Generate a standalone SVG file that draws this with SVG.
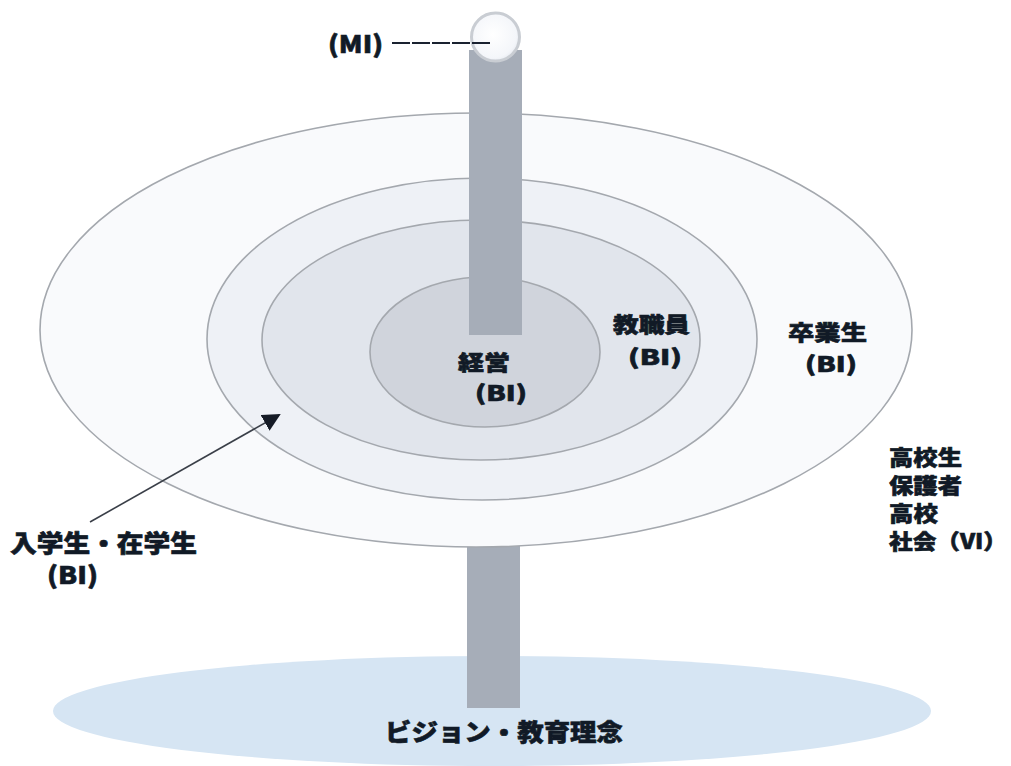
<svg xmlns="http://www.w3.org/2000/svg" width="1011" height="766" viewBox="0 0 1011 766">
  <style>
    .lbl { font-family: "Noto Sans CJK JP", "Liberation Sans", sans-serif; font-weight: 900; fill: #111a26; font-size: 24px; stroke: #111a26; stroke-width: 0.6; }
    .sm { font-size: 21px; }
    .ring { stroke: #a4a8ae; stroke-width: 1.6; }
    .pole { fill: #a6adb8; }
  </style>
  <defs>
    <marker id="arrow" markerWidth="18" markerHeight="18" refX="16" refY="9" orient="auto" markerUnits="userSpaceOnUse" viewBox="0 0 18 18">
      <path d="M0,0 L18,9 L0,18 Z" fill="#151b26"/>
    </marker>
    <radialGradient id="cap" cx="0.45" cy="0.45" r="0.6">
      <stop offset="0" stop-color="#ffffff"/>
      <stop offset="0.8" stop-color="#f4f6fa"/>
      <stop offset="1" stop-color="#e4e8ef"/>
    </radialGradient>
  </defs>
  <rect width="1011" height="766" fill="#ffffff"/>

  <g id="base">
    <ellipse cx="492" cy="711" rx="439" ry="55" fill="#d6e5f3"/>
    <rect class="pole" x="467" y="540" width="53" height="168" fill="#a3aec0"/>
    <text class="lbl" x="385" y="741" textLength="238" lengthAdjust="spacingAndGlyphs">ビジョン・教育理念</text>
  </g>

  <g id="outer">
    <ellipse class="ring" cx="476" cy="330" rx="436" ry="217" fill="#f9fafc"/>
  </g>
  <g id="second">
    <ellipse class="ring" cx="482" cy="339" rx="275" ry="161" fill="#eef1f6"/>
  </g>
  <g id="third">
    <ellipse class="ring" cx="481" cy="340" rx="219" ry="120" fill="#e1e5ec"/>
  </g>
  <g id="inner">
    <ellipse class="ring" cx="485" cy="352" rx="115" ry="75" fill="#d0d4dc"/>
  </g>

  <g id="mast">
    <rect class="pole" x="469" y="50" width="53" height="285"/>
    <circle cx="495.5" cy="37" r="24" fill="url(#cap)" stroke="#c9cdd3" stroke-width="3"/>
  </g>

  <g id="connectors">
    <line x1="392" y1="43" x2="492" y2="43" stroke="#1a2230" stroke-width="2.2" stroke-dasharray="18 2"/>
    <line x1="90" y1="522" x2="279" y2="415" stroke="#3a3f48" stroke-width="1.6" marker-end="url(#arrow)"/>
  </g>

  <g id="label-mi">
    <text class="lbl" x="328" y="53" textLength="55" lengthAdjust="spacingAndGlyphs">(MI)</text>
  </g>
  <g id="label-keiei">
    <text class="lbl sm" x="458" y="370" textLength="52" lengthAdjust="spacingAndGlyphs">経営</text>
    <text class="lbl sm" x="475" y="401" textLength="52" lengthAdjust="spacingAndGlyphs">(BI)</text>
  </g>
  <g id="label-staff">
    <text class="lbl sm" x="613" y="332" textLength="77" lengthAdjust="spacingAndGlyphs">教職員</text>
    <text class="lbl sm" x="628" y="365" textLength="54" lengthAdjust="spacingAndGlyphs">(BI)</text>
  </g>
  <g id="label-alumni">
    <text class="lbl sm" x="788" y="340" textLength="79" lengthAdjust="spacingAndGlyphs">卒業生</text>
    <text class="lbl sm" x="805" y="372" textLength="52" lengthAdjust="spacingAndGlyphs">(BI)</text>
  </g>
  <g id="label-students">
    <text class="lbl" x="10" y="552" textLength="187" lengthAdjust="spacingAndGlyphs">入学生・在学生</text>
    <text class="lbl" x="47" y="584" textLength="51" lengthAdjust="spacingAndGlyphs">(BI)</text>
  </g>
  <g id="label-society">
    <text class="lbl sm" x="889" y="465" textLength="73" lengthAdjust="spacingAndGlyphs">高校生</text>
    <text class="lbl sm" x="889" y="493" textLength="73" lengthAdjust="spacingAndGlyphs">保護者</text>
    <text class="lbl sm" x="889" y="521" textLength="49" lengthAdjust="spacingAndGlyphs">高校</text>
    <text class="lbl sm" x="889" y="549" textLength="118" lengthAdjust="spacingAndGlyphs">社会（VI）</text>
  </g>
</svg>
